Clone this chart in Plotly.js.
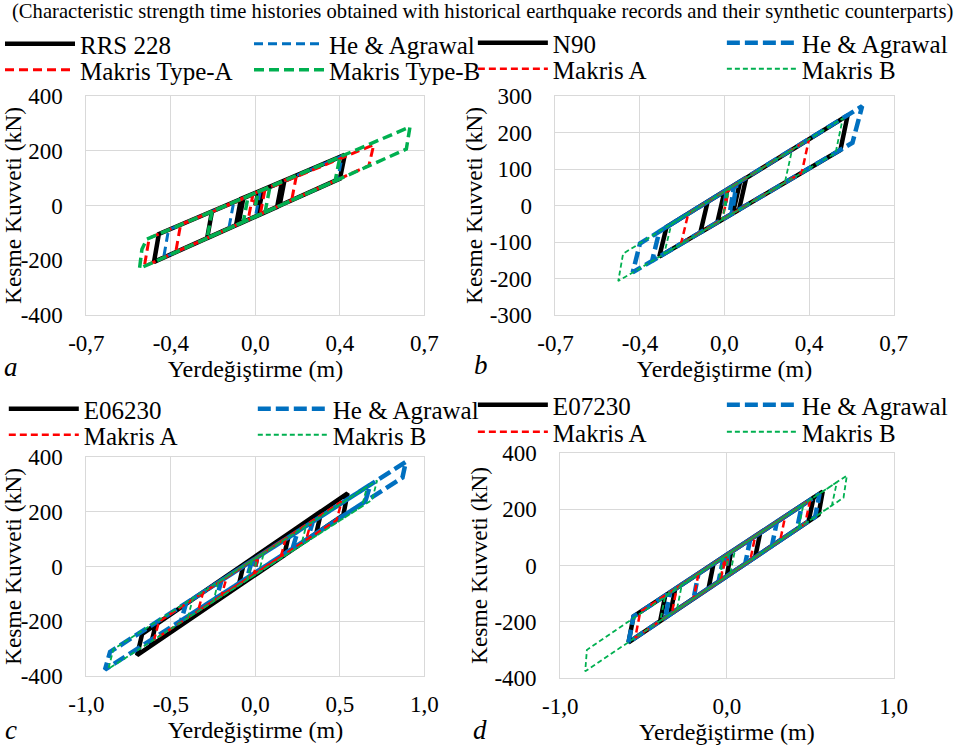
<!DOCTYPE html>
<html><head><meta charset="utf-8">
<script src="https://cdn.plot.ly/plotly-3.0.1.min.js"></script>
<style>html,body{margin:0;padding:0;background:#fff}#chart{width:971px;height:748px}</style>
</head><body><div id="chart"></div>
<script>
// ---------- Panel a ----------
const aNames = ['RRS 228', 'He & Agrawal', 'Makris Type-A', 'Makris Type-B'];
const aBlackX = [0, 0.012, 0.11, 0.09, -0.07, -0.05, 0.37, 0.35, -0.42, -0.40, 0.12, 0.10, -0.20, -0.18, 0.03, 0.01, -0.08, -0.06, 0.0];
const aBlackY = [0, 50, 87, -5, -68, 27, 185, 98, -206, -104, 91, -1, -119, -22, 57, -36, -72, 24, 46];
const aBlueX = [0, 0.012, 0.36, 0.34, -0.38, -0.36, 0.02, 0.0, -0.11, -0.09, 0.0];
const aBlueY = [0, 50, 181, 94, -190, -89, 53, -40, -83, 12, 46];
const aRedX = [0, 0.012, 0.17, 0.15, -0.33, -0.31, 0.49, 0.47, -0.46, -0.44, 0.04, 0.02, -0.03, -0.01, 0.0];
const aRedY = [0, 50, 110, 19, -170, -70, 222, 146, -222, -119, 61, -32, -52, 42, 0];
const aGreenX = [0, 0.012, 0.35, 0.33, -0.20, -0.18, 0.64, 0.625, -0.48, -0.47, -0.45, 0.06, 0.04, -0.05, -0.03, 0.0];
const aGreenY = [0, 50, 177, 90, -119, -22, 287, 206, -230, -160, -123, 68, -24, -60, 35, 46];

// ---------- Panel b ----------
const bNames = ['N90', 'He & Agrawal', 'Makris A', 'Makris B'];
const bBlackX = [0, 0.01, 0.09, 0.06, -0.10, -0.07, 0.51, 0.48, -0.27, -0.24, 0.065, 0.035, -0.03, 0.0];
const bBlackY = [0, 43, 76, -12, -74, 10, 247, 152, -140, -59, 66, -21, -47, 39];
const bBlueX = [0, 0.01, 0.05, 0.03, -0.30, -0.27, 0.57, 0.53, -0.38, -0.35, 0.04, 0.02, 0.0];
const bBlueY = [0, 43, 59, -23, -152, -71, 272, 172, -183, -104, 55, -27, -35];
const bRedX = [0, 0.01, 0.35, 0.32, -0.18, -0.15, 0.02, -0.01, 0.0];
const bRedY = [0, 43, 182, 90, -105, -22, 47, -39, -35];
const bGreenX = [0, 0.01, 0.28, 0.25, -0.25, -0.22, 0.49, 0.46, -0.44, -0.42, 0.02, -0.01, 0.0];
const bGreenY = [0, 43, 153, 63, -133, -51, 239, 144, -207, -132, 47, -39, -35];

// ---------- Panel c ----------
const cNames = ['E06230', 'He & Agrawal', 'Makris A', 'Makris B'];
const cBlackX = [0, 0.01, 0.39, 0.36, -0.62, -0.59, 0.545, 0.52, -0.70, -0.67, 0.20, 0.17, -0.10, -0.07, 0.0];
const cBlackY = [0, 41, 202, 121, -290, -212, 267, 188, -324, -246, 121, 41, -72, 7, 37];
const cBlueX = [0, 0.01, 0.34, 0.31, -0.44, -0.41, 0.68, 0.65, -0.23, -0.20, 0.89, 0.87, -0.89, -0.86, 0.0, 0.25, 0.22, -0.05, -0.02];
const cBlueY = [0, 33, 164, 102, -198, -134, 299, 237, -114, -50, 382, 325, -377, -312, 29, 128, 66, -42, 21];
const cRedX = [0, 0.01, 0.18, 0.15, -0.34, -0.31, 0.51, 0.48, -0.60, -0.57, 0.02, -0.01, 0.0, -0.20, -0.17, 0.33, 0.30];
const cRedY = [0, 34, 103, 36, -163, -96, 237, 169, -268, -201, 38, -29, -25, -106, -39, 164, 97];
const cGreenX = [0, 0.01, 0.66, 0.63, -0.25, -0.22, 0.72, 0.69, -0.87, -0.84, 0.05, 0.02, -0.05, -0.02, 0.30, 0.27, -0.40, -0.37];
const cGreenY = [0, 34, 291, 219, -129, -57, 314, 243, -374, -302, 50, -22, -50, 22, 148, 77, -188, -116];

// ---------- Panel d ----------
const dNames = ['E07230', 'He & Agrawal', 'Makris A', 'Makris B'];
const dBlackX = [0, 0.01, 0.20, 0.17, -0.34, -0.31, 0.575, 0.55, -0.59, -0.56, 0.52, 0.49, -0.40, -0.37, 0.025, 0.0, -0.11, -0.08, 0.0];
const dBlackY = [0, 42, 116, 30, -173, -83, 263, 181, -273, -181, 241, 157, -197, -107, 48, -38, -82, 7, 38];
const dBlueX = [0, 0.01, 0.14, 0.11, -0.37, -0.34, 0.556, 0.53, -0.59, -0.56, 0.45, 0.42, -0.05, -0.02, 0.30, 0.27, -0.20, -0.17];
const dBlueY = [0, 42, 93, 6, -185, -95, 255, 173, -273, -181, 214, 129, -58, 30, 155, 69, -118, -28];
const dRedX = [0, 0.01, 0.50, 0.47, -0.33, -0.30, 0.17, 0.14, -0.55, -0.52, 0.0, -0.04, -0.01, 0.35, 0.32, -0.20, -0.17];
const dRedY = [0, 42, 234, 149, -169, -79, 104, 18, -257, -165, 38, -54, 34, 175, 89, -118, -28];
const dGreenX = [0, 0.01, 0.46, 0.43, -0.40, -0.37, 0.66, 0.63, -0.30, -0.27, 0.72, 0.70, -0.85, -0.84, 0.05, 0.02, -0.05, -0.02];
const dGreenY = [0, 42, 218, 133, -197, -107, 296, 213, -157, -68, 320, 241, -376, -300, 58, -30, -58, 30];

// ---------- Axes ticks ----------
const xTickValsAB = [-0.7, -0.35, 0, 0.35, 0.7];
const xTickTextAB = ['-0,7', '-0,4', '0,0', '0,4', '0,7'];
const xTickValsC = [-1, -0.5, 0, 0.5, 1];
const xTickTextC = ['-1,0', '-0,5', '0,0', '0,5', '1,0'];
const xTickValsD = [-1, 0, 1];
const xTickTextD = ['-1,0', '0,0', '1,0'];
const yTickVals400 = [-400, -200, 0, 200, 400];
const yTickText400 = ['-400', '-200', '0', '200', '400'];
const yTickVals300 = [-300, -200, -100, 0, 100, 200, 300];
const yTickText300 = ['-300', '-200', '-100', '0', '100', '200', '300'];

const xTitle = 'Yerdeğiştirme (m)';
const yTitle = 'Kesme Kuvveti (kN)';
const topTitle = '(Characteristic strength time histories obtained with historical earthquake records and their synthetic counterparts)';

// ---------- styles ----------
const W = 971, H = 748;
const FAM = 'Liberation Serif, Times New Roman, serif';
const colors = ['#000000', '#0070C0', '#FF0000', '#00B050'];
const styleA = [
  {width: 4.5, dash: 'solid'},
  {width: 3, dash: '9px,5px'},
  {width: 3, dash: '9px,5px'},
  {width: 3.5, dash: '10px,5px'}
];
const styleB = [
  {width: 4.5, dash: 'solid'},
  {width: 4.5, dash: '13px,5px'},
  {width: 2.5, dash: '7px,4px'},
  {width: 1.8, dash: '5px,3px'}
];

const traces = [];
function addPanel(sfx, names, xs, ys, styles, legRow1, legRow2) {
  for (let i = 0; i < 4; i++) {
    traces.push({
      type: 'scatter', mode: 'lines',
      x: xs[i], y: ys[i], name: names[i],
      xaxis: 'x' + sfx, yaxis: 'y' + sfx,
      line: {color: colors[i], width: styles[i].width, dash: styles[i].dash, shape: 'linear'},
      legend: (i < 2) ? legRow1 : legRow2,
      hoverinfo: 'skip'
    });
  }
}
addPanel('', aNames, [aBlackX, aBlueX, aRedX, aGreenX], [aBlackY, aBlueY, aRedY, aGreenY], styleA, 'legend', 'legend2');
addPanel('2', bNames, [bBlackX, bBlueX, bRedX, bGreenX], [bBlackY, bBlueY, bRedY, bGreenY], styleB, 'legend3', 'legend4');
addPanel('3', cNames, [cBlackX, cBlueX, cRedX, cGreenX], [cBlackY, cBlueY, cRedY, cGreenY], styleB, 'legend5', 'legend6');
addPanel('4', dNames, [dBlackX, dBlueX, dRedX, dGreenX], [dBlackY, dBlueY, dRedY, dGreenY], styleB, 'legend7', 'legend8');

function xAxis(domain, range, tv, tt, anchor) {
  return {
    domain: domain, range: range, tickvals: tv, ticktext: tt, anchor: anchor,
    showgrid: true, gridcolor: '#d9d9d9', gridwidth: 1, zeroline: false,
    showline: true, mirror: true, linecolor: '#d9d9d9', linewidth: 1,
    ticks: '', ticklabelstandoff: 7, tickfont: {family: FAM, size: 23, color: '#000'},
    title: {text: xTitle, font: {family: FAM, size: 24, color: '#000'}, standoff: 0},
    fixedrange: true
  };
}
function yAxis(domain, range, tv, tt, anchor) {
  return {
    domain: domain, range: range, tickvals: tv, ticktext: tt, anchor: anchor,
    showgrid: true, gridcolor: '#d9d9d9', gridwidth: 1, zeroline: false,
    showline: true, mirror: true, linecolor: '#d9d9d9', linewidth: 1,
    ticks: '', ticklabelstandoff: 18, tickfont: {family: FAM, size: 23, color: '#000'},
    title: {text: yTitle, font: {family: FAM, size: 23.5, color: '#000'}, standoff: 0},
    fixedrange: true
  };
}
function px2x(p) { return p / W; }
function px2y(p) { return 1 - p / H; }
function legend(xp, yp) {
  return {
    x: px2x(xp), y: px2y(yp), xanchor: 'left', yanchor: 'middle',
    orientation: 'h', entrywidth: 164, entrywidthmode: 'pixels', itemwidth: 70,
    font: {family: FAM, size: 25, color: '#000'},
    bgcolor: 'rgba(0,0,0,0)', borderwidth: 0, traceorder: 'normal',
    itemclick: false, itemdoubleclick: false
  };
}
function letter(t, xp, yp) {
  return {text: t, xref: 'paper', yref: 'paper', x: px2x(xp), y: px2y(yp), xanchor: 'center', yanchor: 'middle',
          showarrow: false, font: {family: FAM, size: 27, color: '#000', style: 'italic'}};
}

const layout = {
  width: W, height: H,
  margin: {l: 0, r: 0, t: 0, b: 0},
  paper_bgcolor: '#fff', plot_bgcolor: '#fff',
  font: {family: FAM, color: '#000', size: 23},
  showlegend: true,
  xaxis: xAxis([px2x(91), px2x(447)], [-0.7, 0.7], xTickValsAB, xTickTextAB, 'y'),
  yaxis: yAxis([px2y(315), px2y(96)], [-400, 400], yTickVals400, yTickText400, 'x'),
  xaxis2: xAxis([px2x(585), px2x(941)], [-0.7, 0.7], xTickValsAB, xTickTextAB, 'y2'),
  yaxis2: yAxis([px2y(315), px2y(96)], [-300, 300], yTickVals300, yTickText300, 'x2'),
  xaxis3: xAxis([px2x(91), px2x(447)], [-1, 1], xTickValsC, xTickTextC, 'y3'),
  yaxis3: yAxis([px2y(676), px2y(457)], [-400, 400], yTickVals400, yTickText400, 'x3'),
  xaxis4: xAxis([px2x(590), px2x(941)], [-1, 1], xTickValsD, xTickTextD, 'y4'),
  yaxis4: yAxis([px2y(678), px2y(453)], [-400, 400], yTickVals400, yTickText400, 'x4'),
  legend: legend(0, 44), legend2: legend(0, 70),
  legend3: legend(498, 43), legend4: legend(498, 69),
  legend5: legend(4, 409), legend6: legend(4, 435),
  legend7: legend(498, 405), legend8: legend(498, 432),
  annotations: [
    {text: topTitle, xref: 'paper', yref: 'paper', x: px2x(11), y: px2y(12), xanchor: 'left', yanchor: 'middle',
     showarrow: false, font: {family: FAM, size: 20.6, color: '#000'}},
    letter('a', 12, 367), letter('b', 507, 365), letter('c', 12, 730), letter('d', 506, 730)
  ]
};

Plotly.newPlot('chart', traces, layout, {displayModeBar: false, staticPlot: true});
</script></body></html>
